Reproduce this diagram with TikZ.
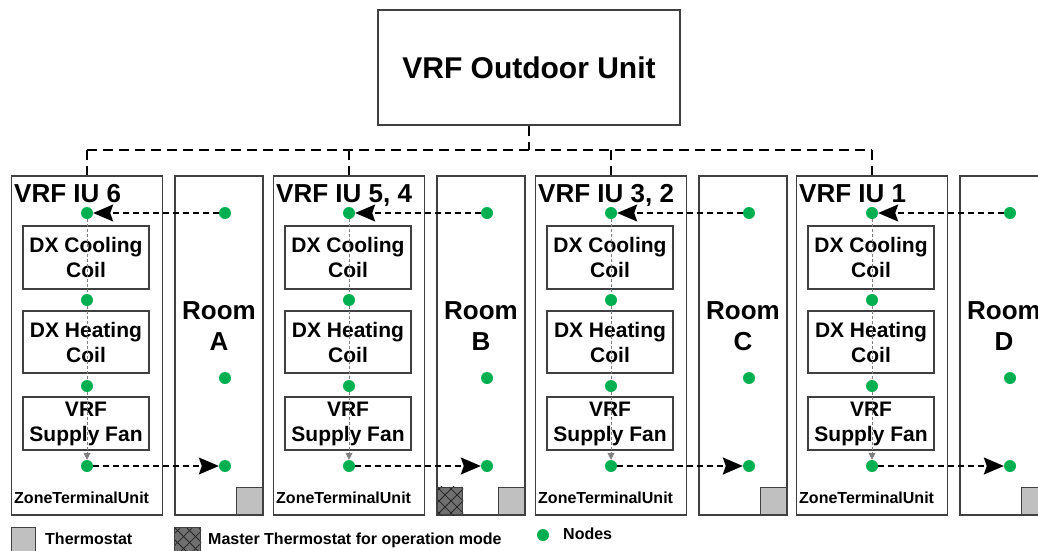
\documentclass[tikz,border=0pt]{standalone}
\usepackage{fontspec}
\setmainfont{Liberation Sans}
\usetikzlibrary{arrows.meta}
\definecolor{nodegreen}{HTML}{00B050}
\definecolor{tstatgray}{HTML}{C0C0C0}
\definecolor{mastergray}{HTML}{707070}
\definecolor{edgegray}{HTML}{404040}
\begin{document}
\begin{tikzpicture}[x=1pt,y=-1pt,
  box/.style={draw=edgegray, line width=1.1pt, rectangle, inner sep=0pt},
  unitbox/.style={box, minimum width=151pt, minimum height=339pt},
  roombox/.style={box, minimum width=88pt, minimum height=339pt},
  inbox/.style={box, minimum width=126pt, align=center, font=\fontsize{21}{25}\selectfont\bfseries},
  dot/.style={circle, fill=nodegreen, minimum size=12pt, inner sep=0pt},
  tstat/.style={box, fill=tstatgray, minimum width=26pt, minimum height=27pt},
  bus/.style={draw=black, dash pattern=on 10pt off 6pt, line width=1.4pt},
  air/.style={draw=black, dash pattern=on 6pt off 4pt, line width=1.4pt, -{Stealth[length=20pt,width=17pt,inset=3pt]}},
  flow/.style={draw=gray, dash pattern=on 3pt off 2pt, line width=0.8pt},
  flowend/.style={flow, -{Triangle[length=7pt,width=7pt]}},
  title/.style={anchor=base west, inner sep=0pt, font=\fontsize{26}{31}\selectfont\bfseries},
  small/.style={anchor=base west, inner sep=0pt, font=\fontsize{16}{19}\selectfont\bfseries},
  roomtext/.style={align=center, inner sep=0pt, font=\fontsize{26}{31}\selectfont\bfseries},
  hatchline/.style={draw=black!85, line width=0.8pt}]
\useasboundingbox (0,0) rectangle (1038,550);
\clip (0,0) rectangle (1038,550);
\fill[white] (0,0) rectangle (1038,550);

% outdoor unit
\node[box, minimum width=302pt, minimum height=115pt, font=\fontsize{30}{36}\selectfont\bfseries] (od) at (529,67.5) {VRF Outdoor Unit};
\coordinate (bus) at (529,150);

\foreach \k/\L/\name/\room in {1/11/{VRF IU 6}/A, 2/273/{VRF IU 5, 4}/B, 3/535/{VRF IU 3, 2}/C, 4/796/{VRF IU 1}/D}{
  \node[unitbox] (iu\k) at (\L+76,345.5) {};
  \node[roombox] (room\k) at (\L+208,345.5) {};
  \node[title] (t\k) at (\L+3,202) {\name};
  \node[small] (z\k) at (\L+3,503) {ZoneTerminalUnit};
  \node[inbox, minimum height=63pt] (cc\k) at (\L+75,257.5) {DX Cooling\\Coil};
  \node[inbox, minimum height=62pt] (hc\k) at (\L+75,342) {DX Heating\\Coil};
  \node[inbox, minimum height=53pt] (sf\k) at (\L+75,423.5) {VRF\\Supply Fan};
  \node[roomtext] (rt\k) at (\L+208,326) {Room\\\room};
  \node[tstat, anchor=south east] (th\k) at (\L+252,515) {};
  \node[dot] (a\k) at (\L+76,213) {};
  \node[dot] (b\k) at (\L+76,300) {};
  \node[dot] (c\k) at (\L+76,386) {};
  \node[dot] (d\k) at (\L+76,466) {};
  \node[dot] (ra\k) at (\L+214,213) {};
  \node[dot] (rb\k) at (\L+214,378) {};
  \node[dot] (rc\k) at (\L+214,466) {};
  \draw[flow] (a\k) -- (b\k);
  \draw[flow] (b\k) -- (c\k);
  \draw[flowend] (c\k) -- (d\k);
  \draw[air] (ra\k) -- (a\k);
  \draw[air] (d\k) -- (rc\k);
  \draw[bus] (a\k |- bus) -- (a\k |- iu\k.north);
}
\draw[bus] (od.south) -- (bus);
\draw[bus] (a1 |- bus) -- (a4 |- bus);

% master thermostat in room B
\node[box, fill=mastergray, minimum width=25pt, minimum height=27pt, anchor=south west] (mt) at (437,515) {};
\begin{scope}
  \clip (mt.south west) rectangle (mt.north east);
  \foreach \s in {-36,-24,...,36} {
    \draw[hatchline] ([xshift=\s pt]mt.south west) -- ++(32,-32);
    \draw[hatchline] ([xshift=\s pt]mt.north west) -- ++(32,32);
  }
\end{scope}
\node[box, minimum width=25pt, minimum height=27pt, anchor=south west] at (437,515) {};

% legend
\node[tstat, minimum width=24pt, minimum height=30pt, anchor=north west] (lg1) at (11,527) {};
\node[small] (lt1) at (45,544) {Thermostat};
\node[box, fill=mastergray, minimum width=26pt, minimum height=30pt, anchor=north west] (lg2) at (174,527) {};
\begin{scope}
  \clip (lg2.south west) rectangle (lg2.north east);
  \foreach \s in {-36,-24,...,36} {
    \draw[hatchline] ([xshift=\s pt]lg2.south west) -- ++(34,-34);
    \draw[hatchline] ([xshift=\s pt]lg2.north west) -- ++(34,34);
  }
\end{scope}
\node[box, minimum width=26pt, minimum height=30pt, anchor=north west] at (174,527) {};
\node[small] (lt2) at (208,544) {Master Thermostat for operation mode};
\node[dot] (lg3) at (543,535) {};
\node[small] (lt3) at (563,539) {Nodes};
\end{tikzpicture}
\end{document}
